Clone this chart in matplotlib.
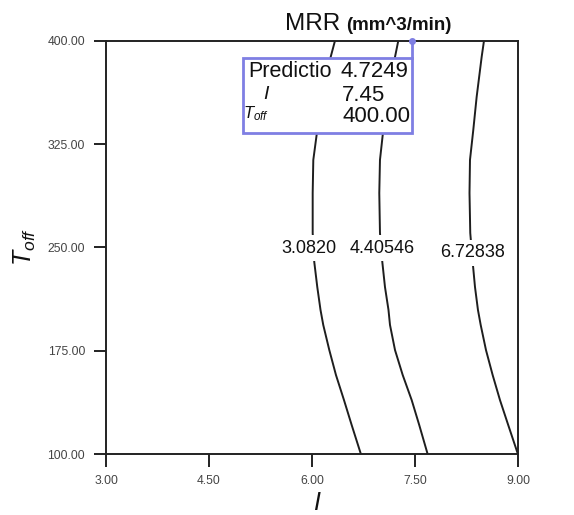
"""MRR contour plot over I and T_off with a prediction flag."""

import matplotlib

matplotlib.use("Agg")
import matplotlib.pyplot as plt  # noqa: E402
from matplotlib.patches import Rectangle  # noqa: E402
from matplotlib.transforms import Bbox, TransformedBbox  # noqa: E402

plt.rcParams["font.family"] = ["Liberation Sans", "DejaVu Sans"]
plt.rcParams["mathtext.fontset"] = "custom"
plt.rcParams["mathtext.rm"] = "Liberation Sans"
plt.rcParams["mathtext.it"] = "Liberation Sans:italic"

# --- Data --------------------------------------------------------------

X_TICKS = [3.00, 4.50, 6.00, 7.50, 9.00]
Y_TICKS = [100.00, 175.00, 250.00, 325.00, 400.00]

# contour levels (as printed) and their traced paths (I at each T_off)
LEVEL_LABELS = ["3.0820", "4.40546", "6.72838"]
T_PATH = [400.0, 388.2, 359.2, 335.2, 313.5, 289.5, 260.5, 239.5,
          221.3, 204.7, 193.8, 175.6, 157.5, 139.3, 121.2, 100.0]
I_PATH_1 = [6.335, 6.272, 6.146, 6.077, 6.019, 6.010, 6.010, 6.033,
            6.077, 6.124, 6.164, 6.252, 6.349, 6.466, 6.578, 6.713]
I_PATH_2 = [7.257, 7.209, 7.107, 7.038, 6.990, 6.980, 6.990, 7.024,
            7.063, 7.114, 7.136, 7.209, 7.321, 7.452, 7.562, 7.685]
I_PATH_3 = [8.505, 8.471, 8.398, 8.349, 8.301, 8.294, 8.305, 8.340,
            8.374, 8.417, 8.457, 8.534, 8.631, 8.738, 8.858, 9.000]
LABEL_I = [5.956, 7.015, 8.334]
LABEL_T = [249.6, 249.6, 246.2]

# prediction flag
PRED_I = 7.45
PRED_T = 400.00
PRED_MRR = "4.7249"

LINE_COLOR = "#1e1e1e"
FLAG_COLOR = "#7f7fe3"
TICK_COLOR = "#444444"


def main() -> None:
    fig = plt.figure(figsize=(5.74, 5.15), dpi=100)
    ax = fig.add_axes([0.1847, 0.1179, 0.7177, 0.8031])

    for path in (I_PATH_1, I_PATH_2, I_PATH_3):
        ax.plot(path, T_PATH, color=LINE_COLOR, linewidth=1.4, zorder=2)

    for lab, xi, yi in zip(LEVEL_LABELS, LABEL_I, LABEL_T):
        ax.text(xi, yi, lab, fontsize=13, ha="center", va="center",
                color="#111111", zorder=3,
                bbox=dict(boxstyle="square,pad=0.25", fc="white", ec="none"))

    # flag box
    box_l, box_r, box_b, box_t = 4.995, PRED_I, 333.1, 387.4
    ax.add_patch(Rectangle((box_l, box_b), box_r - box_l, box_t - box_b,
                           facecolor="white", edgecolor=FLAG_COLOR,
                           linewidth=2.0, zorder=4, clip_on=False))
    ax.plot([PRED_I, PRED_I], [box_t, PRED_T], color=FLAG_COLOR,
            linewidth=2.0, zorder=4, clip_on=False)
    ax.plot([PRED_I], [PRED_T], marker="o", markersize=4, color=FLAG_COLOR,
            zorder=5, clip_on=False)

    clip = TransformedBbox(Bbox([[box_l, box_b], [box_r, box_t]]), ax.transData)
    # name, x, baseline, size | value, x, baseline
    rows = [
        ("Predictio", 5.07, 373.8, 15.5, PRED_MRR, 6.42, 373.8),
        ("$I$", 5.28, 357.4, 14, f"{PRED_I:.2f}", 6.43, 356.6),
        ("$T_{off}$", 4.99, 343.4, 12, f"{PRED_T:.2f}", 6.45, 340.7),
    ]
    for name, nx, ny, fs, val, vx, vy in rows:
        t1 = ax.text(nx, ny, name, fontsize=fs, ha="left", va="baseline",
                     color="#111111", zorder=6)
        t2 = ax.text(vx, vy, val, fontsize=16, ha="left", va="baseline",
                     color="#111111", zorder=6)
        for t in (t1, t2):
            t.set_clip_box(clip)
            t.set_clip_on(True)

    ax.set_xlim(X_TICKS[0], X_TICKS[-1])
    ax.set_ylim(Y_TICKS[0], Y_TICKS[-1])
    ax.set_xticks(X_TICKS)
    ax.set_xticklabels([f"{v:.2f}" for v in X_TICKS])
    ax.set_yticks(Y_TICKS)
    ax.set_yticklabels([f"{v:.2f}" for v in Y_TICKS])
    ax.tick_params(direction="out", length=9, width=1.4, labelsize=8.7,
                   labelcolor=TICK_COLOR, color="#222222", pad=6)
    for sp in ax.spines.values():
        sp.set_linewidth(1.4)
        sp.set_color("#222222")

    fig.text(285 / 574, 1 - 30 / 515, "MRR", fontsize=17.5, ha="left",
             va="baseline", color="#111111")
    fig.text(346 / 574, 1 - 30 / 515, "(mm^3/min)", fontsize=13.5,
             fontweight="bold", ha="left", va="baseline", color="#111111")

    fig.text(25 / 574, 1 - 247 / 515, "$T_{off}$", fontsize=18, rotation=90,
             ha="center", va="center", color="#111111")
    fig.text(317 / 574, 1 - 510 / 515, "$I$", fontsize=18, ha="center",
             va="baseline", color="#111111")

    fig.savefig("out.png", dpi=100)


if __name__ == "__main__":
    main()
